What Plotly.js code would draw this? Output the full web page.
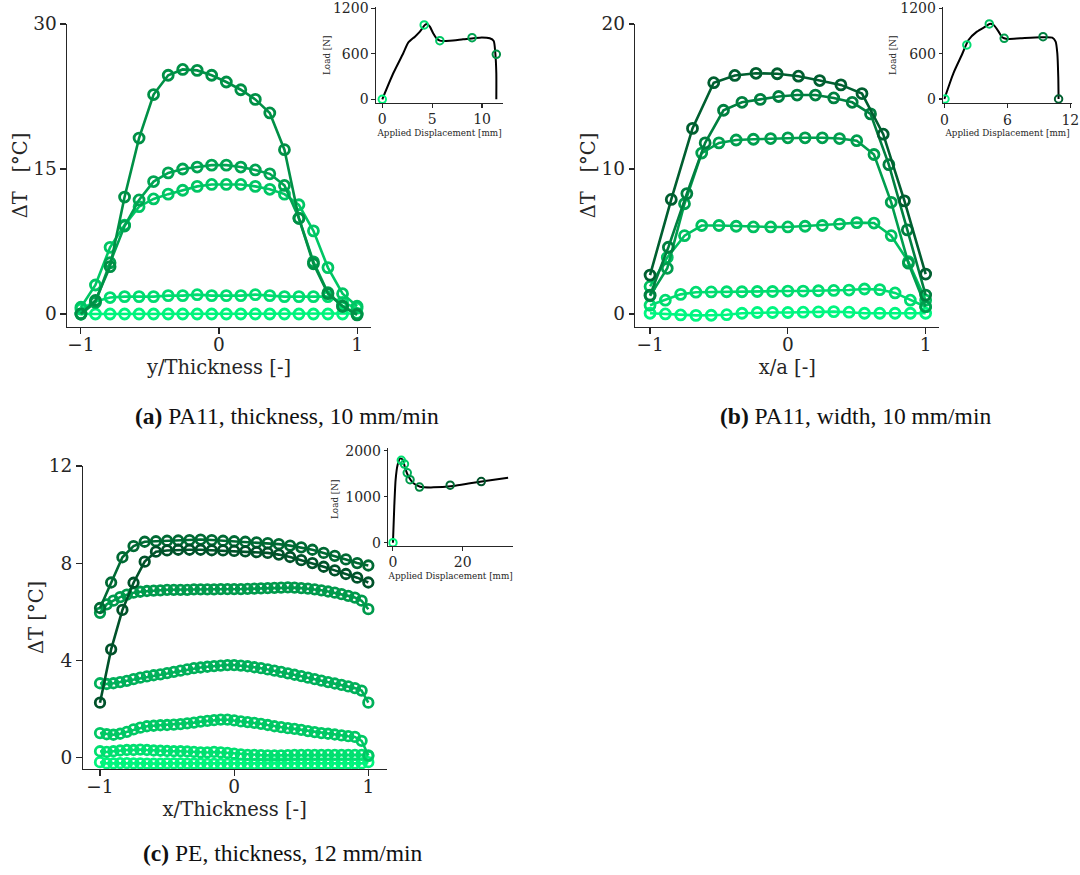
<!DOCTYPE html>
<html>
<head>
<meta charset="utf-8">
<script src="https://cdn.plot.ly/plotly-3.0.1.min.js"></script>
<style>html,body{margin:0;padding:0;background:#fff;}#chart{width:1080px;height:875px;}</style>
</head>
<body>
<div id="chart"></div>
<script>
// ---------------- Panel (a): PA11, thickness ----------------
const aX = [-1, -0.895, -0.789, -0.684, -0.579, -0.474, -0.368, -0.263, -0.158, -0.053, 0.053, 0.158, 0.263, 0.368, 0.474, 0.579, 0.684, 0.789, 0.895, 1];
const aT0 = [0.0, 0.0, 0.0, 0.0, 0.0, 0.0, 0.0, 0.0, 0.0, 0.0, 0.0, 0.0, 0.0, 0.0, 0.0, 0.0, 0.0, 0.0, 0.0, 0.05];
const aT1 = [0.5, 1.3, 1.7, 1.8, 1.8, 1.8, 1.9, 1.9, 2.0, 1.9, 1.9, 1.9, 2.0, 1.9, 1.8, 1.8, 1.8, 1.8, 1.2, 0.6];
const aT2 = [0.7, 3.0, 6.9, 9.2, 11.1, 11.9, 12.4, 12.8, 13.2, 13.4, 13.4, 13.4, 13.2, 12.9, 12.4, 11.3, 8.6, 4.8, 2.1, 0.8];
const aT3 = [0.0, 1.2, 5.3, 9.1, 11.8, 13.7, 14.6, 15.0, 15.2, 15.4, 15.4, 15.2, 14.9, 14.5, 13.3, 9.9, 5.4, 2.2, 0.8, 0.0];
const aT4 = [0.0, 1.4, 4.9, 12.1, 18.2, 22.7, 24.7, 25.3, 25.2, 24.7, 24.0, 23.2, 22.2, 20.8, 17.0, 9.9, 5.2, 2.1, 0.8, -0.1];
const aLoadDisp = [0, 1.1, 2.1, 2.6, 3.27, 3.77, 4.27, 4.5, 4.77, 5.1, 5.43, 5.77, 6.77, 8.1, 9.77, 10.77, 11.17, 11.33, 11.43, 11.43];
const aLoad = [0, 343, 607, 747, 826, 892, 980, 993, 958, 870, 804, 773, 773, 791, 813, 804, 769, 607, 343, 0];
const aMarkDisp = [0, 4.2, 5.77, 9.0, 11.43];
const aMarkLoad = [0, 980, 773, 813, 593];
const aColors = ['#00f47c', '#00dc70', '#00c664', '#00a452', '#009046'];

// ---------------- Panel (b): PA11, width ----------------
const bX19 = [-1, -0.889, -0.778, -0.667, -0.556, -0.444, -0.333, -0.222, -0.111, 0, 0.111, 0.222, 0.333, 0.444, 0.556, 0.667, 0.778, 0.889, 1];
const bX17 = [-1, -0.875, -0.75, -0.625, -0.5, -0.375, -0.25, -0.125, 0, 0.125, 0.25, 0.375, 0.5, 0.625, 0.75, 0.875, 1];
const bX16 = [-1, -0.867, -0.733, -0.6, -0.467, -0.333, -0.2, -0.067, 0.067, 0.2, 0.333, 0.467, 0.6, 0.733, 0.867, 1];
const bX14 = [-1, -0.846, -0.692, -0.538, -0.385, -0.231, -0.077, 0.077, 0.231, 0.385, 0.538, 0.692, 0.846, 1];
const bT0 = [0.05, 0.0, -0.07, -0.1, -0.09, -0.05, 0.05, 0.1, 0.1, 0.1, 0.12, 0.14, 0.16, 0.12, 0.05, 0.05, 0.05, 0.05, 0.05];
const bT1 = [0.6, 0.95, 1.35, 1.5, 1.52, 1.53, 1.53, 1.55, 1.55, 1.58, 1.58, 1.6, 1.62, 1.65, 1.72, 1.68, 1.45, 0.95, 0.5];
const bT2 = [1.9, 3.9, 5.4, 6.1, 6.1, 6.05, 6.0, 6.0, 6.0, 6.05, 6.1, 6.2, 6.3, 6.27, 5.4, 3.6, 0.95];
const bT3 = [1.25, 3.15, 7.6, 11.1, 11.8, 12.0, 12.05, 12.1, 12.15, 12.15, 12.15, 12.1, 11.95, 11.0, 7.7, 3.5, 0.5];
const bT4 = [1.3, 4.6, 8.3, 11.8, 14.05, 14.6, 14.8, 15.0, 15.1, 15.1, 14.9, 14.6, 13.8, 10.3, 5.8, 1.3];
const bT5 = [2.68, 7.9, 12.8, 15.95, 16.45, 16.6, 16.57, 16.4, 16.1, 15.8, 15.2, 12.4, 7.8, 2.75];
const bLoadDisp = [0, 0.86, 1.66, 2.3, 3.1, 3.9, 4.3, 4.7, 5.17, 5.5, 5.97, 7.25, 9.16, 10.28, 10.6, 10.76, 10.85, 10.88];
const bLoad = [0, 340, 582, 781, 891, 957, 993, 979, 891, 816, 794, 803, 816, 812, 759, 604, 296, 0];
const bMarkDisp = [0.06, 2.14, 4.28, 5.7, 9.4, 10.88];
const bMarkLoad = [0, 715, 993, 803, 825, 0];
const bColors = ['#00f680', '#00dc70', '#00c060', '#009e4e', '#008040', '#005f30'];

// ---------------- Panel (c): PE, thickness ----------------
const cX41 = [-1, -0.95, -0.9, -0.85, -0.8, -0.75, -0.7, -0.65, -0.6, -0.55, -0.5, -0.45, -0.4, -0.35, -0.3, -0.25, -0.2, -0.15, -0.1, -0.05, 0, 0.05, 0.1, 0.15, 0.2, 0.25, 0.3, 0.35, 0.4, 0.45, 0.5, 0.55, 0.6, 0.65, 0.7, 0.75, 0.8, 0.85, 0.9, 0.95, 1];
const cX25 = [-1, -0.917, -0.833, -0.75, -0.667, -0.583, -0.5, -0.417, -0.333, -0.25, -0.167, -0.083, 0, 0.083, 0.167, 0.25, 0.333, 0.417, 0.5, 0.583, 0.667, 0.75, 0.833, 0.917, 1];
const cT0 = [-0.2, -0.25, -0.25, -0.24, -0.24, -0.25, -0.25, -0.26, -0.26, -0.26, -0.25, -0.25, -0.25, -0.26, -0.26, -0.26, -0.27, -0.27, -0.27, -0.27, -0.27, -0.27, -0.27, -0.27, -0.27, -0.26, -0.26, -0.26, -0.26, -0.26, -0.26, -0.26, -0.26, -0.26, -0.26, -0.26, -0.26, -0.26, -0.26, -0.25, -0.2];
const cT1 = [0.25, 0.22, 0.25, 0.28, 0.3, 0.3, 0.32, 0.3, 0.28, 0.27, 0.26, 0.25, 0.25, 0.24, 0.22, 0.2, 0.2, 0.22, 0.2, 0.18, 0.15, 0.12, 0.1, 0.1, 0.09, 0.08, 0.08, 0.08, 0.09, 0.1, 0.1, 0.1, 0.1, 0.1, 0.1, 0.1, 0.1, 0.1, 0.1, 0.1, 0.05];
const cT2 = [1.0, 0.95, 0.93, 0.97, 1.05, 1.15, 1.22, 1.28, 1.3, 1.32, 1.33, 1.35, 1.37, 1.4, 1.43, 1.47, 1.5, 1.53, 1.55, 1.55, 1.52, 1.48, 1.45, 1.42, 1.38, 1.33, 1.28, 1.24, 1.2, 1.17, 1.13, 1.08, 1.04, 1.0, 0.97, 0.94, 0.9, 0.87, 0.84, 0.68, 0.08];
const cT3 = [3.05, 3.02, 3.05, 3.1, 3.15, 3.22, 3.28, 3.33, 3.38, 3.42, 3.47, 3.52, 3.57, 3.62, 3.67, 3.7, 3.73, 3.76, 3.78, 3.8, 3.8, 3.78, 3.75, 3.71, 3.67, 3.62, 3.57, 3.52, 3.46, 3.4, 3.34, 3.28, 3.22, 3.16, 3.1, 3.04, 2.98, 2.92, 2.85, 2.75, 2.25];
const cT4 = [5.95, 6.3, 6.45, 6.6, 6.7, 6.78, 6.82, 6.85, 6.87, 6.88, 6.9, 6.9, 6.9, 6.9, 6.92, 6.92, 6.92, 6.92, 6.93, 6.93, 6.93, 6.93, 6.94, 6.95, 6.96, 6.97, 6.98, 6.99, 7.0, 6.99, 6.97, 6.95, 6.92, 6.88, 6.83, 6.78, 6.72, 6.65, 6.58, 6.45, 6.1];
const cT5 = [6.15, 7.2, 8.24, 8.7, 8.88, 8.9, 8.92, 8.93, 8.95, 8.97, 8.95, 8.92, 8.9, 8.88, 8.85, 8.82, 8.78, 8.72, 8.65, 8.55, 8.42, 8.3, 8.15, 8.0, 7.9];
const cT6 = [2.25, 4.45, 6.07, 7.19, 8.06, 8.47, 8.52, 8.55, 8.55, 8.55, 8.53, 8.52, 8.5, 8.48, 8.45, 8.42, 8.35, 8.25, 8.12, 8.0, 7.85, 7.7, 7.55, 7.4, 7.2];
const cLoadDisp = [0, 0.38, 0.76, 1.33, 2.1, 2.86, 3.5, 4.5, 5.9, 7.8, 11.6, 17.3, 22.1, 26.9, 33.0];
const cLoad = [0, 783, 1362, 1688, 1833, 1797, 1616, 1435, 1290, 1217, 1203, 1232, 1290, 1348, 1413];
const cMarkDisp = [0, 2.4, 3.3, 4.1, 4.9, 7.6, 16.4, 25.3];
const cMarkLoad = [0, 1790, 1710, 1520, 1370, 1210, 1250, 1330];
const cColors = ['#00f47c', '#00e070', '#00c864', '#00b05a', '#009a4c', '#00843f', '#006a34', '#00522a'];

// ---------------- helpers ----------------
const W = 1080, H = 875;
const SERIF = 'DejaVu Serif, serif';
const INK = '#262626';
function px(a, b) { return [a / W, b / W]; }
function py(top, bottom) { return [1 - bottom / H, 1 - top / H]; }

function axisStyle(opts) {
  return Object.assign({
    showline: true, linecolor: INK, linewidth: 1.1, mirror: false,
    ticks: 'outside', ticklen: 5.5, tickwidth: 1.1, tickcolor: INK,
    showgrid: false, zeroline: false, fixedrange: true,
    tickfont: {family: SERIF, size: 18.5, color: INK}
  }, opts);
}

const traces = [];
function profile(x, y, color, xa, ya, msize) {
  traces.push({
    type: 'scatter', mode: 'lines+markers', x: x, y: y, xaxis: xa, yaxis: ya,
    line: {color: color, width: 2.6},
    marker: {symbol: 'circle-open', size: msize, color: color, line: {color: color, width: 2.8}},
    showlegend: false, hoverinfo: 'skip'
  });
}
function loadCurve(x, y, xa, ya) {
  traces.push({
    type: 'scatter', mode: 'lines', x: x, y: y, xaxis: xa, yaxis: ya,
    line: {color: '#000000', width: 2, shape: 'spline', smoothing: 0.6}, showlegend: false, hoverinfo: 'skip'
  });
}
function loadMarks(x, y, colors, xa, ya) {
  traces.push({
    type: 'scatter', mode: 'markers', x: x, y: y, xaxis: xa, yaxis: ya,
    marker: {symbol: 'circle-open', size: 7.5, color: colors, line: {color: colors, width: 2}},
    showlegend: false, hoverinfo: 'skip'
  });
}

// (a)
[aT0, aT1, aT2, aT3, aT4].forEach((t, i) => profile(aX, t, aColors[i], 'x', 'y', 10));
loadCurve(aLoadDisp, aLoad, 'x2', 'y2');
loadMarks(aMarkDisp, aMarkLoad, aColors, 'x2', 'y2');
// (b)
profile(bX19, bT0, bColors[0], 'x3', 'y3', 10);
profile(bX19, bT1, bColors[1], 'x3', 'y3', 10);
profile(bX17, bT2, bColors[2], 'x3', 'y3', 10);
profile(bX17, bT3, bColors[3], 'x3', 'y3', 10);
profile(bX16, bT4, bColors[4], 'x3', 'y3', 10);
profile(bX14, bT5, bColors[5], 'x3', 'y3', 10);
loadCurve(bLoadDisp, bLoad, 'x4', 'y4');
loadMarks(bMarkDisp, bMarkLoad, bColors, 'x4', 'y4');
// (c)
profile(cX41, cT0, cColors[0], 'x5', 'y5', 9.5);
profile(cX41, cT1, cColors[1], 'x5', 'y5', 9.5);
profile(cX41, cT2, cColors[2], 'x5', 'y5', 9.5);
profile(cX41, cT3, cColors[3], 'x5', 'y5', 9.5);
profile(cX41, cT4, cColors[4], 'x5', 'y5', 9.5);
profile(cX25, cT5, cColors[6], 'x5', 'y5', 9.5);
profile(cX25, cT6, cColors[7], 'x5', 'y5', 9.5);
loadCurve(cLoadDisp, cLoad, 'x6', 'y6');
loadMarks(cMarkDisp, cMarkLoad, cColors, 'x6', 'y6');

const mainTitleFont = {family: SERIF, size: 19.5, color: INK};
const insetTick = {family: SERIF, size: 14, color: INK};
const insetTitle = {family: SERIF, size: 8.8, color: INK};
const NB = '\u00a0';
const xMain = {ticklabelstandoff: -5};
const capFont = {family: 'Liberation Serif, Times New Roman, serif', size: 23.5, color: '#111'};

function note(text, xp, yp, font, angle) {
  return {text: text, x: xp / W, y: 1 - yp / H, xref: 'paper', yref: 'paper',
    xanchor: 'center', yanchor: 'middle', showarrow: false, font: font, textangle: angle || 0};
}

const layout = {
  width: W, height: H,
  margin: {l: 0, r: 0, t: 0, b: 0},
  paper_bgcolor: '#ffffff', plot_bgcolor: 'rgba(0,0,0,0)',
  showlegend: false,
  // (a) main
  xaxis: axisStyle(Object.assign({domain: px(67, 371), anchor: 'y', range: [-1.101, 1.101], tickvals: [-1, 0, 1],
    title: {text: 'y/Thickness [-]', font: mainTitleFont, standoff: 6}}, xMain)),
  yaxis: axisStyle({domain: py(24, 327), anchor: 'x', range: [-1.345, 30], tickvals: [0, 15, 30],
    title: {text: 'ΔT' + NB + NB + ' [°C]', font: mainTitleFont, standoff: 0}}),
  // (a) inset
  xaxis2: axisStyle({domain: px(376, 503), anchor: 'y2', range: [-0.63, 12.1], tickvals: [0, 5, 10], ticklen: 3.5,
    tickfont: insetTick, title: {text: 'Applied Displacement [mm]', font: insetTitle, standoff: 3}}),
  yaxis2: axisStyle({domain: py(6.7, 103), anchor: 'x2', range: [-49, 1221], tickvals: [0, 600, 1200], ticklen: 3.5,
    tickfont: insetTick}),
  // (b) main
  xaxis3: axisStyle(Object.assign({domain: px(635.3, 939.3), anchor: 'y3', range: [-1.107, 1.099], tickvals: [-1, 0, 1],
    title: {text: 'x/a [-]', font: mainTitleFont, standoff: 6}}, xMain)),
  yaxis3: axisStyle({domain: py(24, 327), anchor: 'x3', range: [-0.9, 20], tickvals: [0, 10, 20],
    title: {text: 'ΔT' + NB + NB + ' [°C]', font: mainTitleFont, standoff: 0}}),
  // (b) inset
  xaxis4: axisStyle({domain: px(943.3, 1071.7), anchor: 'y4', range: [-0.1, 12.13], tickvals: [0, 6, 12], ticklen: 3.5,
    tickfont: insetTick, title: {text: 'Applied Displacement [mm]', font: insetTitle, standoff: 3}}),
  yaxis4: axisStyle({domain: py(7, 103.3), anchor: 'x4', range: [-57, 1217], tickvals: [0, 600, 1200], ticklen: 3.5,
    tickfont: insetTick}),
  // (c) main
  xaxis5: axisStyle(Object.assign({domain: px(82.7, 386.7), anchor: 'y5', range: [-1.129, 1.137], tickvals: [-1, 0, 1],
    title: {text: 'x/Thickness [-]', font: mainTitleFont, standoff: 6}}, xMain)),
  yaxis5: axisStyle({domain: py(465.5, 769.3), anchor: 'x5', range: [-0.494, 12.02], tickvals: [0, 4, 8, 12],
    title: {text: 'ΔT [°C]', font: mainTitleFont, standoff: 0}}),
  // (c) inset
  xaxis6: axisStyle({domain: px(388.3, 513), anchor: 'y6', range: [-1.33, 34.4], tickvals: [0, 20], ticklen: 3.5,
    tickfont: insetTick, title: {text: 'Applied Displacement [mm]', font: insetTitle, standoff: 3}}),
  yaxis6: axisStyle({domain: py(448, 546), anchor: 'x6', range: [-72, 2059], tickvals: [0, 1000, 2000], ticklen: 3.5,
    tickfont: insetTick}),
  annotations: [
    note('Load [N]', 327, 56, insetTitle, -90),
    note('Load [N]', 893, 56, insetTitle, -90),
    note('Load [N]', 335, 500, insetTitle, -90),
    note('<b>(a)</b> PA11, thickness, 10 mm/min', 286.7, 416, capFont),
    note('<b>(b)</b> PA11, width, 10 mm/min', 855, 416, capFont),
    note('<b>(c)</b> PE, thickness, 12 mm/min', 283, 853, capFont)
  ]
};

Plotly.newPlot('chart', traces, layout, {displayModeBar: false, staticPlot: true});
</script>
</body>
</html>
